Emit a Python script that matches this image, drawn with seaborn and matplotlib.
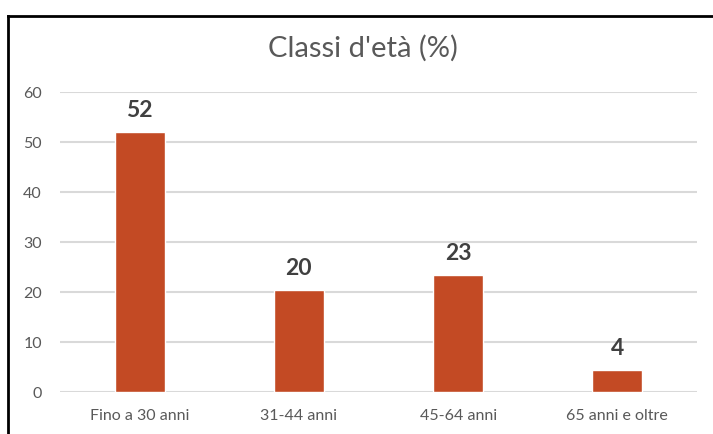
import matplotlib
matplotlib.use("Agg")
import matplotlib.pyplot as plt
import seaborn as sns
from matplotlib.lines import Line2D

categories = ["Fino a 30 anni", "31-44 anni", "45-64 anni", "65 anni e oltre"]
values = [52.0, 20.4, 23.4, 4.4]
y_ticks = [0, 10, 20, 30, 40, 50, 60]
title = "Classi d'età (%)"

sns.set_theme(style="white")
plt.rcParams["font.family"] = ["Lato", "DejaVu Sans"]

W, H = 713, 434
fig = plt.figure(figsize=(W / 100, H / 100), dpi=100)
ax = fig.add_axes([60 / W, 42 / H, (697 - 60) / W, (392 - 92) / H])

sns.barplot(x=categories, y=values, color="#C34A24", saturation=1,
            width=0.315, ax=ax, zorder=3)

ax.set_ylim(0, 60)
ax.set_yticks(y_ticks)
ax.set_xlim(-0.5, len(categories) - 0.5)
ax.yaxis.grid(True, color="#D9D9D9", linewidth=1.5, zorder=0)
ax.xaxis.grid(False)
for s in ax.spines.values():
    s.set_visible(False)
ax.tick_params(axis="both", length=0, labelsize=11.5, labelcolor="#595959")
ax.tick_params(axis="y", pad=13)
ax.tick_params(axis="x", pad=12)
ax.set_xlabel("")
ax.set_ylabel("")

ax.bar_label(ax.containers[0], fmt="%.0f", padding=8, fontsize=16.5,
             fontweight="bold", color="#404040")

fig.text(363 / W, 1 - 48 / H, title, ha="center", va="center",
         fontsize=21, color="#595959")

# outer chart frame: left and top edges
top = 1 - 15.5 / H
left = 7.5 / W
fig.add_artist(Line2D([left, left], [-0.05, top], transform=fig.transFigure,
                      color="black", linewidth=2, solid_capstyle="projecting"))
fig.add_artist(Line2D([left, 1.05], [top, top], transform=fig.transFigure,
                      color="black", linewidth=2, solid_capstyle="projecting"))

fig.savefig("out.png", dpi=100, facecolor="white")
